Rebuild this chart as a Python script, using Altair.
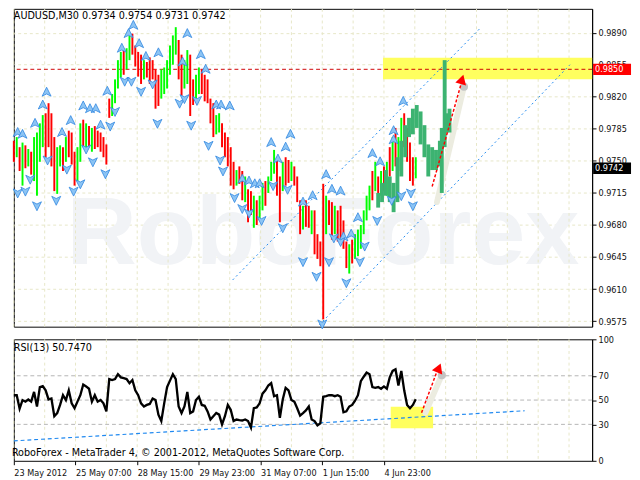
import altair as alt
import pandas as pd

# ---------------- data ----------------
# bar index (30-minute bars; every third bar kept)
bar_t = list(range(0, 420, 3))

high = [0.9772, 0.9776, 0.9765, 0.9770, 0.9767, 0.9763, 0.9760, 0.9776, 0.9781, 0.9791,
        0.9800, 0.9802, 0.9813, 0.9802, 0.9776, 0.9765, 0.9767, 0.9765, 0.9776, 0.9783,
        0.9781, 0.9760, 0.9765, 0.9791, 0.9795, 0.9791, 0.9788, 0.9786, 0.9788, 0.9783,
        0.9781, 0.9776, 0.9768,
        0.9818, 0.9823, 0.9839, 0.9860, 0.9869, 0.9871, 0.9873, 0.9887, 0.9889, 0.9876,
        0.9869, 0.9866, 0.9860, 0.9858, 0.9863, 0.9860, 0.9850, 0.9844, 0.9850, 0.9852,
        0.9860, 0.9876, 0.9887, 0.9896, 0.9882, 0.9866, 0.9860, 0.9871, 0.9866, 0.9839,
        0.9844, 0.9852, 0.9850, 0.9844, 0.9839, 0.9818, 0.9813, 0.9800, 0.9802, 0.9791,
        0.9781, 0.9776, 0.9765, 0.9749, 0.9740, 0.9744, 0.9739, 0.9733, 0.9719, 0.9717,
        0.9712, 0.9707, 0.9712, 0.9726, 0.9728, 0.9733, 0.9749, 0.9762, 0.9754, 0.9733,
        0.9749, 0.9754, 0.9751, 0.9749, 0.9744, 0.9733, 0.9707, 0.9701, 0.9707, 0.9701,
        0.9696, 0.9696, 0.9670, 0.9662,
        0.9725, 0.9712, 0.9707, 0.9705, 0.9701, 0.9696, 0.9701, 0.9685, 0.9662, 0.9659,
        0.9664, 0.9670, 0.9675, 0.9680, 0.9696, 0.9712, 0.9723, 0.9739, 0.9749, 0.9733,
        0.9739, 0.9744, 0.9749, 0.9765, 0.9776, 0.9786, 0.9776, 0.9797, 0.9802, 0.9786,
        0.9770, 0.9754, 0.9754]

low = [0.9749, 0.9754, 0.9739, 0.9723, 0.9742, 0.9744, 0.9735, 0.9728, 0.9712, 0.9749,
       0.9765, 0.9754, 0.9765, 0.9744, 0.9717, 0.9714, 0.9744, 0.9739, 0.9749, 0.9754,
       0.9746, 0.9723, 0.9728, 0.9749, 0.9765, 0.9760, 0.9765, 0.9760, 0.9763, 0.9765,
       0.9760, 0.9754, 0.9746,
       0.9797, 0.9799, 0.9813, 0.9829, 0.9841, 0.9844, 0.9850, 0.9860, 0.9866, 0.9853,
       0.9842, 0.9834, 0.9839, 0.9841, 0.9834, 0.9839, 0.9807, 0.9810, 0.9818, 0.9823,
       0.9829, 0.9844, 0.9855, 0.9866, 0.9839, 0.9821, 0.9829, 0.9834, 0.9799, 0.9811,
       0.9818, 0.9823, 0.9823, 0.9815, 0.9813, 0.9791, 0.9776, 0.9779, 0.9781, 0.9765,
       0.9754, 0.9744, 0.9723, 0.9719, 0.9723, 0.9725, 0.9707, 0.9705, 0.9683, 0.9691,
       0.9677, 0.9680, 0.9685, 0.9696, 0.9701, 0.9715, 0.9728, 0.9736, 0.9712, 0.9683,
       0.9717, 0.9723, 0.9726, 0.9728, 0.9723, 0.9705, 0.9670, 0.9675, 0.9678, 0.9677,
       0.9670, 0.9648, 0.9643, 0.9635,
       0.9577, 0.9670, 0.9680, 0.9664, 0.9670, 0.9662, 0.9659, 0.9654, 0.9633, 0.9627,
       0.9638, 0.9643, 0.9646, 0.9654, 0.9670, 0.9685, 0.9696, 0.9707, 0.9717, 0.9705,
       0.9712, 0.9717, 0.9712, 0.9733, 0.9739, 0.9744, 0.9739, 0.9754, 0.9765, 0.9749,
       0.9728, 0.9723, 0.9731]

# g = bullish bar, r = bearish bar
direction = list("rgrgrgrggg" "grrrrggrgr" "rrggrgrgrr" "rrr"
                 "rggggrggrr" "rrgrrrrrgg" "ggggrrggrr" "ggrrrrrggr"
                 "rrrrgrrgrr" "grggrgggrr" "grrgrrrgrr" "grrr"
                 "rgrrgrrrrg" "rggggggrgr" "grgrgrggrr" "rrg")

rsi = [54, 54, 43, 50, 48.7, 50.5, 48.7, 56.7, 44.7, 60.7,
       61.5, 58, 50.5, 51.3, 36.7, 39.3, 46, 54, 50, 58,
       47.3, 43.3, 48.7, 54, 62.8, 61.2, 59.3, 48.7, 54, 48.7,
       50, 47.3, 40.7, 67.3, 66.5, 67.3, 71.3, 68.7, 68, 67.3,
       63.9, 66.5, 58, 54, 47.3, 44.7, 46, 46.8, 51.3, 50,
       38, 32.7, 47.3, 60.7, 66, 71.3, 67.3, 44.7, 39.3, 44.7,
       56.7, 39.3, 40.7, 50, 52.7, 46, 45.3, 40.7, 34, 36.7,
       39.3, 38, 30, 36.7, 46, 42,
       32.7, 34, 33.5, 33.2, 34, 32.7, 27.3, 43.3, 43.9, 47.3,
       55.3, 58, 62, 63.9, 53.2, 54, 35.3, 50.5, 60.1, 58,
       50, 48.7, 43.3, 37.2, 39.3, 41.5, 44.7, 34, 32.7, 29.2,
       30.8, 52.7, 53.2, 54, 54, 53.2, 54, 52.7, 39.9, 40.7,
       44.7, 46, 49.5, 54, 65.5, 69.2, 72.7, 71.3, 60.7, 60.1,
       60.7, 59.3, 61.2, 59.3, 68.7, 74, 75.3, 62, 74, 58,
       46, 43.3, 46, 50.7]

# projected pattern (thick green)
green_t = [378, 382, 386, 390, 394, 398, 402, 406, 410, 414, 418, 422, 426, 430, 434,
           438, 442, 444, 447, 449, 452]
green_hi = [0.9715, 0.9726, 0.9740, 0.9733, 0.9726, 0.9754, 0.9772, 0.9789, 0.9797, 0.9807,
            0.9811, 0.9804, 0.9789, 0.9768, 0.9765, 0.9762, 0.9772, 0.9786, 0.9860, 0.9802,
            0.9807]
green_lo = [0.9699, 0.9705, 0.9712, 0.9705, 0.9694, 0.9705, 0.9733, 0.9754, 0.9776, 0.9779,
            0.9786, 0.9768, 0.9754, 0.9733, 0.9740, 0.9740, 0.9744, 0.9715, 0.9765, 0.9781,
            0.9781]

# fractal arrows
up_t = [4, 9, 22, 30, 34, 50, 59, 72, 79, 85, 90, 97, 112, 119, 124, 130, 137, 150, 175, 180,
        194, 199, 210, 215, 224, 237, 244, 250, 255, 267, 274, 282, 287, 300, 310, 324, 330,
        339, 342, 350, 357, 372, 380, 394, 394, 404]
up_p = [0.9781, 0.9779, 0.9791, 0.9811, 0.9825, 0.9781, 0.9794, 0.9810, 0.9807, 0.9807,
        0.9789, 0.9826, 0.9873, 0.9889, 0.9898, 0.9878, 0.9864, 0.9868, 0.9858, 0.9889,
        0.9866, 0.9850, 0.9811, 0.9811, 0.9810, 0.9730, 0.9728, 0.9725, 0.9725, 0.9770,
        0.9752, 0.9765, 0.9779, 0.9705, 0.9712, 0.9735, 0.9719, 0.9717, 0.9667, 0.9670,
        0.9688, 0.9758, 0.9749, 0.9783, 0.9773, 0.9815]
dn_t = [4, 12, 17, 24, 35, 44, 55, 62, 69, 75, 82, 95, 100, 105, 115, 122, 132, 144, 149, 172,
        177, 184, 190, 202, 214, 217, 229, 237, 244, 257, 269, 279, 284, 300, 314, 320, 327,
        332, 339, 345, 359, 364, 377, 392, 402, 412, 414]
dn_p = [0.9715, 0.9717, 0.9730, 0.9701, 0.9751, 0.9707, 0.9741, 0.9717, 0.9725, 0.9763,
        0.9749, 0.9736, 0.9788, 0.9804, 0.9837, 0.9837, 0.9826, 0.9834, 0.9791, 0.9813,
        0.9818, 0.9789, 0.9816, 0.9767, 0.9751, 0.9739, 0.9710, 0.9698, 0.9693, 0.9685,
        0.9723, 0.9677, 0.9719, 0.9640, 0.9624, 0.9572, 0.9640, 0.9666, 0.9662, 0.9617,
        0.9640, 0.9657, 0.9685, 0.9707, 0.9712, 0.9715, 0.9701]

# channel lines (t, price)
chan_id = ["upper", "upper", "lower", "lower"]
chan_t = [227, 484, 317, 577]
chan_p = [0.9620, 0.9895, 0.9571, 0.9855]

x_labels = ["23 May 2012", "25 May 07:00", "28 May 15:00", "29 May 23:00",
            "31 May 07:00", "1 Jun 15:00", "4 Jun 23:00"]
x_label_t = [0, 64, 128, 192, 256, 320, 384]
price_ticks = [0.9575, 0.9610, 0.9645, 0.9680, 0.9715, 0.9750, 0.9785, 0.9820, 0.9855, 0.9890]
rsi_ticks = [0, 30, 50, 70, 100]
rsi_levels = [30, 50, 70]

# ---------------- layout ----------------
W, H1, H2 = 595, 327, 125
FONT = "DejaVu Sans Condensed"
GRID = "#e6e6c6"
AX_FS = 9.3

xs = alt.Scale(domain=[0, 600], nice=False, zero=False)
ps = alt.Scale(domain=[0.9569, 0.9916], nice=False, zero=False)
rs = alt.Scale(domain=[0, 100], nice=False, zero=False)

label_expr = "[" + ",".join(f"'{s}'" for s in x_labels) + "][round(datum.value/64)]"

price_axis = alt.Axis(orient="right", values=price_ticks, format=".4f", grid=True,
                      gridColor=GRID, gridDash=[3, 3], tickSize=4, labelPadding=2,
                      domain=True, domainColor="black", tickColor="black",
                      labelFont=FONT, labelFontSize=AX_FS, labelColor="#111111",
                      labelOverlap=False, title=None)
rsi_axis = alt.Axis(orient="right", values=rsi_ticks, grid=False, tickSize=4, labelPadding=2,
                    domainColor="black", tickColor="black", labelFont=FONT,
                    labelFontSize=AX_FS, labelColor="#111111", labelOverlap=False, title=None)
time_axis = alt.Axis(values=x_label_t, grid=False, tickSize=4, labelAlign="left",
                     labelPadding=4, domain=False, tickColor="black", labelFont=FONT,
                     labelFontSize=AX_FS, labelColor="#111111", labelOverlap=False,
                     labelFlush=False, labelExpr=label_expr, title=None)


def PX(f="t"):
    return alt.X(f"{f}:Q", scale=xs, axis=None)


def RX(f="t"):
    return alt.X(f"{f}:Q", scale=xs, axis=time_axis)


def PY(f):
    return alt.Y(f"{f}:Q", scale=ps, axis=price_axis)


def RY(f):
    return alt.Y(f"{f}:Q", scale=rs, axis=rsi_axis)


bars = pd.DataFrame({"t": bar_t, "high": high, "low": low, "dir": direction})
rsi_df = pd.DataFrame({"t": bar_t, "rsi": rsi})
green = pd.DataFrame({"t": green_t, "hi": green_hi, "lo": green_lo})
ups = pd.DataFrame({"t": up_t, "p": up_p})
dns = pd.DataFrame({"t": dn_t, "p": dn_p})
chan = pd.DataFrame({"id": chan_id, "t": chan_t, "p": chan_p})
vgrid = pd.DataFrame({"t": list(range(0, 601, 32))})

# ---------- price panel ----------
water = alt.Chart(pd.DataFrame({"w": ["RoboForex"]})).mark_text(
    fontSize=100, fontWeight="bold", font="Liberation Sans", color="#f1f3f6"
).encode(x=alt.value(318), y=alt.value(232), text="w:N")

pgrid = alt.Chart(vgrid).mark_rule(color=GRID, strokeDash=[3, 3]).encode(x=PX())

ybox = alt.Chart(pd.DataFrame({"t1": [383], "t2": [600], "p1": [0.98625], "p2": [0.98392]})).mark_rect(
    color="#ffff5e").encode(x=PX("t1"), x2="t2:Q", y=PY("p1"), y2="p2:Q")

chan_l = alt.Chart(chan).mark_line(color="#1e88f0", strokeDash=[2, 3], strokeWidth=1).encode(
    x=PX(), y=PY("p"), detail="id:N")

res_line = alt.Chart(pd.DataFrame({"p": [0.9850]})).mark_rule(
    color="#d00000", strokeDash=[4, 3], strokeWidth=1).encode(y=PY("p"))

shadow = alt.Chart(pd.DataFrame({"t": [439, 467], "p": [0.9705, 0.9831]})).mark_line(
    color="#ecece0", strokeWidth=6, strokeCap="round").encode(x=PX(), y=PY("p"))
shadow_dot = alt.Chart(pd.DataFrame({"t": [467], "p": [0.9831]})).mark_circle(
    color="#c4c4c4", size=70, opacity=1).encode(x=PX(), y=PY("p"))

candles = alt.Chart(bars).mark_rule(strokeWidth=2).encode(
    x=PX(), y=PY("high"), y2="low:Q",
    color=alt.Color("dir:N", scale=alt.Scale(domain=["g", "r"], range=["#00ff00", "#ff0000"]),
                    legend=None))

green_l = alt.Chart(green).mark_rule(strokeWidth=4, color="#3cb371").encode(
    x=PX(), y=PY("hi"), y2="lo:Q")

UP = "M0,-1L0.9,0.8L0,0.35L-0.9,0.8Z"
DN = "M0,1L0.9,-0.8L0,-0.35L-0.9,-0.8Z"
up_m = alt.Chart(ups).mark_point(shape=UP, filled=True, fill="#8cc4f4", stroke="#2f86e0",
                                 strokeWidth=0.8, size=105, opacity=1).encode(x=PX(), y=PY("p"))
dn_m = alt.Chart(dns).mark_point(shape=DN, filled=True, fill="#8cc4f4", stroke="#2f86e0",
                                 strokeWidth=0.8, size=105, opacity=1).encode(x=PX(), y=PY("p"))

arrow = alt.Chart(pd.DataFrame({"t": [434, 464], "p": [0.9722, 0.9834]})).mark_line(
    color="#ff0000", strokeDash=[3, 2], strokeWidth=1.5).encode(x=PX(), y=PY("p"))
arrow_head = alt.Chart(pd.DataFrame({"t": [465], "p": [0.9839]})).mark_point(
    shape="triangle-up", filled=True, color="#ff0000", size=130, angle=16, opacity=1).encode(
    x=PX(), y=PY("p"))

head_txt = alt.Chart(pd.DataFrame({"s": ["AUDUSD,M30  0.9734 0.9754 0.9731 0.9742"]})).mark_text(
    align="left", baseline="middle", font=FONT, fontSize=11, color="black").encode(
    x=alt.value(0), y=alt.value(7), text="s:N")

lab_df = pd.DataFrame({"p": [0.9850, 0.9742], "s": ["0.9850", "0.9742"], "c": ["red", "black"]})
lab_box = alt.Chart(lab_df).transform_calculate(
    top="datum.p + 0.00062", bot="datum.p - 0.00062").mark_rect().encode(
    x=alt.value(W + 1), x2=alt.value(W + 40),
    y=PY("top"), y2="bot:Q",
    color=alt.Color("c:N", scale=alt.Scale(domain=["red", "black"], range=["#ff0000", "#000000"]),
                    legend=None))
lab_txt = alt.Chart(lab_df).mark_text(align="left", baseline="middle", font=FONT, fontSize=AX_FS,
                                      color="white").encode(
    x=alt.value(W + 3), y=PY("p"), text="s:N")

price = alt.layer(water, pgrid, ybox, chan_l, res_line, shadow, shadow_dot, candles, green_l,
                  up_m, dn_m, arrow, arrow_head, head_txt, lab_box, lab_txt).properties(
    width=W, height=H1).resolve_scale(color="independent")

# ---------- RSI panel ----------
rgrid = alt.Chart(vgrid).mark_rule(color=GRID, strokeDash=[3, 3]).encode(x=RX())
lev = alt.Chart(pd.DataFrame({"v": rsi_levels})).mark_rule(
    color="#b4b4b4", strokeDash=[4, 3]).encode(y=RY("v"))
rbox = alt.Chart(pd.DataFrame({"t1": [391], "t2": [435], "a": [44.4], "b": [26.8]})).mark_rect(
    color="#ffff5e").encode(x=RX("t1"), x2="t2:Q", y=RY("a"), y2="b:Q")
trend = alt.Chart(pd.DataFrame({"t": [0, 530], "v": [16.4, 41.2]})).mark_line(
    color="#1e88f0", strokeDash=[4, 3], strokeWidth=1.2).encode(x=RX(), y=RY("v"))
rline = alt.Chart(rsi_df).mark_line(color="black", strokeWidth=2.4).encode(x=RX(), y=RY("rsi"))
rshadow = alt.Chart(pd.DataFrame({"t": [427, 444], "v": [39.5, 70.5]})).mark_line(
    color="#ecece0", strokeWidth=6, strokeCap="round").encode(x=RX(), y=RY("v"))
rshadow_dot = alt.Chart(pd.DataFrame({"t": [444], "v": [70.5]})).mark_circle(
    color="#c4c4c4", size=70, opacity=1).encode(x=RX(), y=RY("v"))
rarrow = alt.Chart(pd.DataFrame({"t": [423, 439], "v": [39.6, 73.5]})).mark_line(
    color="#ff0000", strokeDash=[3, 2], strokeWidth=1.5).encode(x=RX(), y=RY("v"))
rhead = alt.Chart(pd.DataFrame({"t": [441], "v": [76.5]})).mark_point(
    shape="triangle-up", filled=True, color="#ff0000", size=130, angle=22, opacity=1).encode(
    x=RX(), y=RY("v"))
rsi_txt = alt.Chart(pd.DataFrame({"s": ["RSI(13) 50.7470"]})).mark_text(
    align="left", baseline="middle", font=FONT, fontSize=11, color="black").encode(
    x=alt.value(0), y=alt.value(9), text="s:N")
copy_txt = alt.Chart(pd.DataFrame({"s": ["RoboForex - MetaTrader 4, © 2001-2012, MetaQuotes Software Corp."]})).mark_text(
    align="left", baseline="middle", font=FONT, fontSize=11, color="black").encode(
    x=alt.value(-2), y=alt.value(117), text="s:N")

rsi_panel = alt.layer(rgrid, lev, rbox, trend, rline, rshadow, rshadow_dot, rarrow, rhead,
                      rsi_txt, copy_txt).properties(width=W, height=H2)

chart = alt.vconcat(price, rsi_panel, spacing=3).properties(
    padding={"top": -7, "left": 0, "right": 0, "bottom": 0}, background="white"
).configure_view(stroke="black", strokeWidth=1)

chart.save("out.html", embed_options={"renderer": "svg", "actions": False})
